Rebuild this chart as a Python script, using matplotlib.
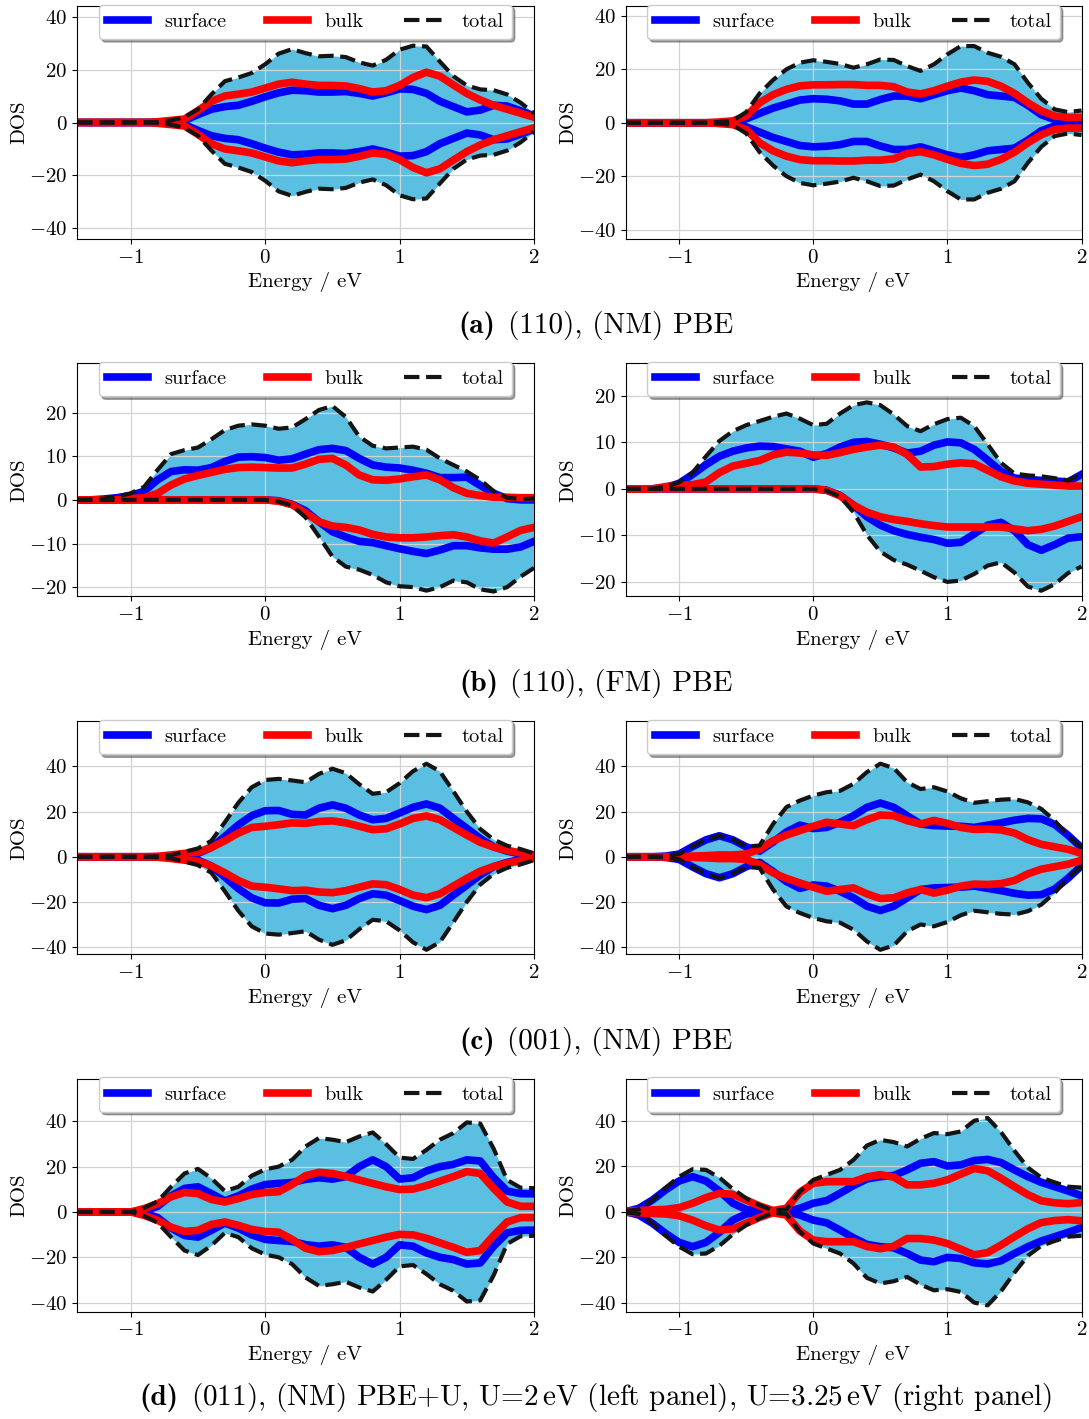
import matplotlib
matplotlib.use("Agg")
import matplotlib.pyplot as plt
from matplotlib.offsetbox import TextArea, HPacker, AnchoredOffsetbox

# ── Style ────────────────────────────────────────────────────────────────────
plt.rcParams.update({
    "font.family": "cmr10",
    "mathtext.fontset": "cm",
    "axes.formatter.use_mathtext": True,
    "axes.unicode_minus": True,
    "font.size": 15,
})

SURF_COLOR = "#0000ff"
BULK_COLOR = "#ff0000"
TOTAL_COLOR = "#141414"
FILL_COLOR = "#5abfe0"
GRID_COLOR = "#d2d2d2"

# ── Data: energy grid (eV) and projected DOS, spin-down given as magnitude ──
energy = [-1.4, -1.3, -1.2, -1.1, -1.0, -0.9, -0.8, -0.7, -0.6, -0.5, -0.4,
          -0.3, -0.2, -0.1, 0.0, 0.1, 0.2, 0.3, 0.4, 0.5, 0.6, 0.7, 0.8,
          0.9, 1.0, 1.1, 1.2, 1.3, 1.4, 1.5, 1.6, 1.7, 1.8, 1.9, 2.0]

# (a) (110), NM PBE
a_left_surf = [0, 0, 0, 0, 0, 0, 0, 0.3, 0.8, 3, 5, 6, 6.5, 8,
               9.7, 11.2, 12.2, 12, 11.5, 11.5, 11.7, 11, 10, 11.2,
               12.7, 12.5, 11, 8, 6, 4, 4.7, 6.5, 6.2, 4.4, 2.5]
a_left_bulk = [0, 0, 0, 0, 0, 0, 0.3, 0.8, 1.3, 4.5, 8, 10, 10.7, 11.5,
               13, 14.5, 15.2, 14.5, 14, 14, 13.8, 12.8, 11.5, 12,
               14, 17, 19, 17.5, 14.2, 11, 8.5, 6.5, 5, 3.5, 2]
a_left_total = [0, 0, 0, 0, 0, 0, 0.2, 0.8, 2, 5, 10.6, 15.6, 17, 18.7,
                22, 26, 27.7, 26.2, 25, 25.2, 24.7, 22.7, 21.5, 23.7,
                27.5, 29, 28.7, 23, 17.5, 14, 12.5, 12.2, 10.6, 7.5, 3.5]

a_right_surf = [0, 0, 0, 0, 0, 0, 0, 0, 0.3, 1.5, 3.5, 5.5, 7, 8.5,
                9, 8.8, 8.2, 7, 7, 8.7, 10, 10, 9, 10.5,
                12, 13, 12, 10.5, 10, 9.5, 6.5, 3, 1.2, 0.8, 1]
a_right_bulk = [0, 0, 0, 0, 0, 0, 0, 0.3, 0.7, 2.5, 7.5, 10.5, 12.5, 13.8,
                14.2, 14.2, 14.3, 14.3, 14, 14, 13.5, 11.5, 10.8, 12,
                13.7, 15.2, 16, 15.5, 13.7, 11, 7.5, 4.5, 2.5, 2, 2]
a_right_total = [0, 0, 0, 0, 0, 0, 0, 0.3, 0.8, 4, 11, 16, 20, 22.5,
                 23.4, 22.8, 22, 20.6, 21.9, 23.7, 23.5, 21.2, 19.4, 21.9,
                 25.6, 28.7, 28.7, 26.2, 24.7, 21.9, 15, 9, 5, 4, 4.6]

# (b) (110), FM PBE
b_left_surf_up = [0, 0, 0.2, 0.5, 1, 2, 4.6, 6.5, 6.9, 6.8, 7.4, 8.8, 9.8, 9.9,
                  9.7, 9.1, 9.4, 10.5, 11.5, 11.8, 11.3, 9.5, 8, 7.5,
                  7.3, 6.8, 6.1, 5.1, 5.1, 5.2, 3.3, 1.5, 0.3, 0, 0]
b_left_bulk_up = [0, 0, 0, 0, 0.3, 0.5, 1.5, 3.4, 4.8, 5.6, 6.3, 7, 7.4, 7.5,
                  7.4, 7.3, 7.3, 8.2, 9.3, 9.5, 8, 5.7, 4.6, 4.5,
                  4.8, 5.3, 5.7, 4.6, 2.8, 1.5, 1, 0.6, 0.6, 0.5, 0.5]
b_left_total_up = [0, 0.1, 0.3, 0.8, 1.5, 3, 6.9, 10.5, 11.4, 12, 13.9, 16, 17, 17.3,
                   17, 16.3, 16.6, 18.5, 20.6, 21.5, 19, 14.5, 12.4, 11.8,
                   12, 12.2, 11.5, 9.5, 8, 6.5, 4.6, 2, 0.5, 0.2, 0.3]
b_left_surf_dn = [0, 0, 0, 0, 0, 0, 0, 0, 0, 0, 0, 0, 0, 0,
                  0, 0.2, 1, 2.5, 5, 7.3, 8.5, 9.5, 9.8, 10.5,
                  11.2, 11.8, 12.3, 11.5, 10.5, 10.5, 11, 11.3, 11.3, 10.8, 9.5]
b_left_bulk_dn = [0, 0, 0, 0, 0, 0, 0, 0, 0, 0, 0, 0, 0, 0,
                  0, 0.3, 1.1, 3, 5, 6, 6.3, 6.9, 7.9, 8.5,
                  8.7, 8.7, 8.5, 8.2, 8, 8.5, 9.4, 9.9, 8.5, 7, 6.3]
b_left_total_dn = [0, 0, 0, 0, 0, 0, 0, 0, 0, 0, 0, 0, 0, 0,
                   0, 0.4, 1.3, 4, 8.4, 13, 15.3, 16, 17.2, 18.9,
                   19.8, 20, 20.8, 20, 18.5, 18.9, 20.5, 21, 20, 17.6, 15.6]

b_right_surf_up = [0, 0, 0, 0.3, 1.2, 3.1, 5.2, 7, 8.1, 8.8, 9.2, 9.1, 8.6, 8.1,
                   6.8, 7.6, 9, 10, 10.2, 9.6, 8.8, 7.7, 8.1, 9.4,
                   10.1, 9.9, 8.5, 6.2, 3.8, 2.3, 2, 1.8, 1.7, 1.5, 3.1]
b_right_bulk_up = [0, 0, 0, 0.5, 0.8, 0.9, 1.5, 3.5, 4.9, 5.5, 6.1, 7.3, 7.9, 7.7,
                   7.3, 7.2, 7.8, 8.5, 9, 9.4, 9, 7.4, 4.7, 4.8,
                   5.3, 5.6, 5.4, 4, 2.6, 1.7, 1.2, 1, 0.8, 0.6, 0.6]
b_right_total_up = [0, 0, 0, 0.5, 1.4, 3.5, 7, 10.3, 12.4, 13.7, 14.6, 15.5, 16.2, 15.1,
                    13.7, 14, 16.2, 18, 18.6, 18, 16, 13.5, 12.4, 13.9,
                    15, 15.3, 13.5, 9.6, 5.6, 3.3, 2.9, 2.7, 2.3, 1.8, 3.3]
b_right_surf_dn = [0, 0, 0, 0, 0, 0, 0, 0, 0, 0, 0, 0, 0, 0,
                   0, 0.3, 1.4, 3.5, 6, 7.8, 9, 9.8, 10.4, 10.9,
                   11.7, 11.5, 9.7, 7.8, 7.2, 9, 12, 13.2, 12, 10.6, 10.3]
b_right_bulk_dn = [0, 0, 0, 0, 0, 0, 0, 0, 0, 0, 0, 0, 0, 0,
                   0, 0.3, 1.5, 3.5, 5, 6, 6.6, 7, 7.5, 7.9,
                   8.2, 8.2, 8.2, 8.2, 8.2, 8.6, 9, 8.7, 8, 7, 6]
b_right_total_dn = [0, 0, 0, 0, 0, 0, 0, 0, 0, 0, 0, 0, 0, 0,
                    0, 0.4, 1.7, 5, 9.9, 13.5, 15.3, 16.3, 17.6, 19,
                    20, 19.7, 18.3, 16.5, 15.8, 18, 21, 21.9, 20.5, 18.1, 16.7]

# (c) (001), NM PBE
c_left_surf = [0, 0, 0, 0, 0, 0, 0, 0, 0.5, 1.5, 4.1, 9, 14.1, 18.2,
               20.4, 20.5, 18.8, 18.5, 21.5, 23, 21.5, 18.5, 16.4, 17,
               19.4, 21.9, 23.4, 21.5, 17, 12.6, 8.1, 4.4, 2.5, 1.2, 0.5]
c_left_bulk = [0, 0, 0, 0, 0, 0, 0.2, 0.8, 1.5, 2, 4.1, 7.1, 10.5, 13,
               13.5, 14.2, 15, 14.8, 15.6, 15.9, 15, 13.5, 12, 12.4,
               14.5, 17, 18.1, 16.4, 13, 9.6, 6.4, 4.3, 2.8, 1.7, 0.8]
c_left_total = [0, 0, 0, 0, 0, 0, 0.2, 0.7, 2.2, 3.7, 7.1, 15.3, 23.9, 30.8,
                34, 34.5, 33.8, 33, 36.7, 39, 37, 32.1, 27.9, 28.6,
                32.6, 37.9, 41.2, 37.8, 29, 20, 12.3, 7.6, 4.9, 3.4, 1.5]

c_right_surf = [0, 0, 0, 0.3, 1.2, 4.5, 7.5, 9.3, 7.5, 4.4, 2.5, 6.5, 11, 14,
                12.5, 13, 15.3, 18.2, 21.9, 23.8, 21.9, 18.2, 14.5, 13.8,
                13.6, 13.5, 13, 14, 15, 16.2, 17, 16.8, 14.3, 9.5, 4]
c_right_bulk = [0, 0, 0, 0, 0, 0.3, 0.5, 0.8, 0.8, 1.2, 3.4, 7.1, 9.6, 11.6,
                13.5, 15.3, 14.5, 13.8, 16.4, 18.5, 18.2, 16, 14.5, 16.1,
                14.8, 13, 12.1, 12.3, 11.9, 10.5, 7.6, 5.5, 4.4, 3.3, 1.5]
c_right_total = [0, 0, 0, 0.3, 1.2, 4.6, 7.6, 9.3, 7.6, 4.5, 5, 14.5, 22, 24.9,
                 27.1, 28.6, 29.2, 32.3, 37.5, 41.2, 39.3, 33, 30, 30.8,
                 28.9, 25.9, 23.9, 24.6, 25.3, 25.6, 24.1, 21.2, 16, 9.3, 4.1]

# (d) (011), NM PBE+U
d_left_surf = [0, 0, 0, 0, 0, 0.5, 2.5, 7.1, 10.4, 11.1, 8.1, 4.9, 7.1, 10.1,
               12.1, 12.6, 13, 14.4, 15.1, 14.5, 15.6, 20, 23, 20,
               14.5, 15.1, 18.1, 20, 21, 23, 22.5, 15.1, 9.2, 8.1, 8]
d_left_bulk = [0, 0, 0, 0, 0, 1.5, 3.7, 6.7, 8.6, 8.1, 5.5, 4.4, 5.9, 7.7,
               8.6, 8.9, 12.1, 16, 17.5, 17, 15.7, 14.1, 12.6, 11.1,
               9.9, 10.1, 11.6, 13.6, 15.6, 17.8, 17, 10.4, 4.4, 2.5, 2.5]
d_left_total = [0, 0, 0, 0, 0, 1.8, 4.7, 11.1, 17, 19, 14.8, 9.2, 11.1, 16,
                18.8, 20, 23, 28.9, 32.6, 31.9, 30.8, 33.3, 35.1, 29.9,
                24, 23.4, 27.4, 31.9, 34.8, 39.5, 39, 27.9, 14.1, 10.7, 10.5]

d_right_surf = [0, 1.5, 5.1, 9.6, 13.5, 15.4, 13.5, 9.1, 3.7, 1, 0.3, 0, 0, 1.5,
                3.7, 4.9, 8.1, 11.5, 14.4, 15.4, 15.9, 18.4, 21.3, 22,
                20.1, 20.6, 22.5, 23, 21.6, 18.4, 15.4, 12.9, 11, 9.1, 7]
d_right_bulk = [0.2, 0.5, 0.8, 1, 1.8, 3.7, 6.2, 8.1, 7.6, 5.1, 2.5, 0.5, 1.5, 8.5,
                12.5, 13.2, 13.2, 13.2, 15.3, 16.3, 15.2, 11.8, 11.8, 12.5,
                14, 16.5, 19, 18, 14.7, 11, 7.5, 4.8, 3.9, 3.5, 4]
d_right_total = [0.3, 1, 5.1, 10.6, 15.4, 18.7, 18.4, 15, 10, 5.9, 2.9, 0.5, 1, 8.8,
                 14, 16.2, 18.4, 22.8, 29.1, 31.6, 30.6, 28.7, 32.1, 34.6,
                 34.1, 35.3, 40, 41.2, 35, 26.8, 19.4, 15, 12.9, 11, 10.6]

# caption: (bold tag, regular text)
captions = [
    ("(a)", "(110), (NM) PBE"),
    ("(b)", "(110), (FM) PBE"),
    ("(c)", "(001), (NM) PBE"),
    ("(d)", r"(011), (NM) PBE+U, U=2$\,$eV (left panel), U=3.25$\,$eV (right panel)"),
]

# non-magnetic panels: spin-down channel equals spin-up channel
panels = [
    # (surf_up, bulk_up, total_up, surf_dn, bulk_dn, total_dn, ylim, yticks)
    [(a_left_surf, a_left_bulk, a_left_total, a_left_surf, a_left_bulk, a_left_total,
      (-44, 44), [-40, -20, 0, 20, 40]),
     (a_right_surf, a_right_bulk, a_right_total, a_right_surf, a_right_bulk, a_right_total,
      (-43.5, 43.7), [-40, -20, 0, 20, 40])],
    [(b_left_surf_up, b_left_bulk_up, b_left_total_up, b_left_surf_dn, b_left_bulk_dn,
      b_left_total_dn, (-22.1, 31.3), [-20, -10, 0, 10, 20]),
     (b_right_surf_up, b_right_bulk_up, b_right_total_up, b_right_surf_dn, b_right_bulk_dn,
      b_right_total_dn, (-23.1, 27.0), [-20, -10, 0, 10, 20])],
    [(c_left_surf, c_left_bulk, c_left_total, c_left_surf, c_left_bulk, c_left_total,
      (-43.2, 60), [-40, -20, 0, 20, 40]),
     (c_right_surf, c_right_bulk, c_right_total, c_right_surf, c_right_bulk, c_right_total,
      (-43.2, 60), [-40, -20, 0, 20, 40])],
    [(d_left_surf, d_left_bulk, d_left_total, d_left_surf, d_left_bulk, d_left_total,
      (-44, 58.8), [-40, -20, 0, 20, 40]),
     (d_right_surf, d_right_bulk, d_right_total, d_right_surf, d_right_bulk, d_right_total,
      (-44, 58.5), [-40, -20, 0, 20, 40])],
]


def draw_dos(ax, surf_up, bulk_up, tot_up, surf_dn, bulk_dn, tot_dn, ylim, yticks):
    neg = lambda vals: [-v for v in vals]
    ax.fill_between(energy, tot_up, neg(tot_dn), color=FILL_COLOR, lw=0, zorder=1)
    ls, = ax.plot(energy, surf_up, color=SURF_COLOR, lw=5.5, label="surface")
    ax.plot(energy, neg(surf_dn), color=SURF_COLOR, lw=5.5)
    lb, = ax.plot(energy, bulk_up, color=BULK_COLOR, lw=5.5, label="bulk")
    ax.plot(energy, neg(bulk_dn), color=BULK_COLOR, lw=5.5)
    lt, = ax.plot(energy, tot_up, color=TOTAL_COLOR, lw=3, ls="--", label="total")
    ax.plot(energy, neg(tot_dn), color=TOTAL_COLOR, lw=3, ls="--")

    ax.set_xlim(-1.4, 2.0)
    ax.set_ylim(*ylim)
    ax.set_xticks([-1, 0, 1, 2])
    ax.set_yticks(yticks)
    ax.grid(True, color=GRID_COLOR, linewidth=0.9)
    ax.set_xlabel("Energy / eV")
    ax.set_ylabel("DOS", labelpad=0.5)

    ax.legend(handles=[ls, lb, lt], loc="upper center", bbox_to_anchor=(0.5, 1.05),
              ncol=3, fancybox=True, shadow=True, framealpha=1, fontsize=14.7)


def add_caption(fig, x, y, tag, text):
    bold = TextArea(tag, textprops=dict(family="cmb10", size=21))
    rest = TextArea(text, textprops=dict(family="cmr10", size=21))
    box = HPacker(children=[bold, rest], align="baseline", pad=0, sep=9)
    anchored = AnchoredOffsetbox(loc="center", child=box, pad=0, borderpad=0,
                                 frameon=False, bbox_to_anchor=(x, y),
                                 bbox_transform=fig.transFigure)
    fig.add_artist(anchored)


W, H = 1089, 1419
fig = plt.figure(figsize=(W / 100, H / 100), dpi=100)

axes_h = 233
col_x = [(77, 457), (625.5, 456)]
row_top = [6, 363.3, 721.3, 1078.7]
caption_y = [326, 684, 1041, 1398]

for r, row in enumerate(panels):
    for c, spec in enumerate(row):
        x0, w = col_x[c]
        ax = fig.add_axes([x0 / W, 1 - (row_top[r] + axes_h) / H, w / W, axes_h / H])
        draw_dos(ax, *spec)
    add_caption(fig, 596 / W, 1 - caption_y[r] / H, *captions[r])

fig.savefig("out.png", dpi=100)
